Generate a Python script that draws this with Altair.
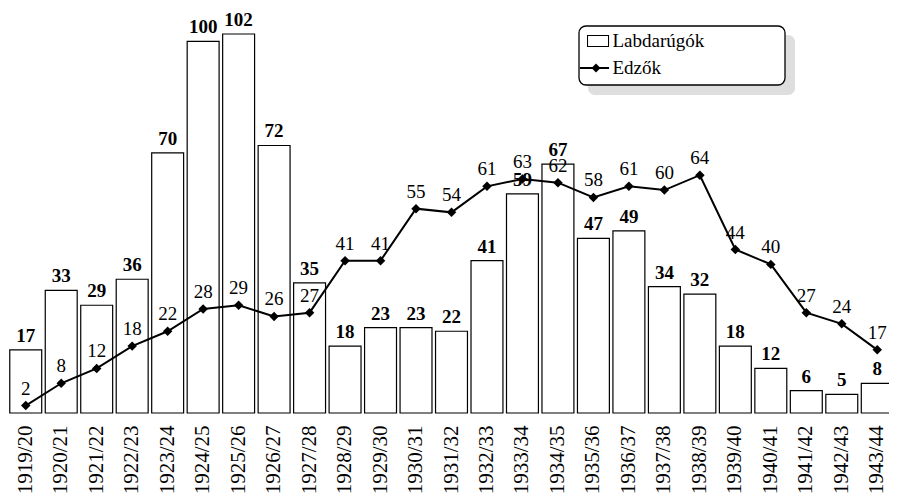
import altair as alt
import pandas as pd

seasons = ["1919/20", "1920/21", "1921/22", "1922/23", "1923/24", "1924/25", "1925/26",
           "1926/27", "1927/28", "1928/29", "1929/30", "1930/31", "1931/32", "1932/33",
           "1933/34", "1934/35", "1935/36", "1936/37", "1937/38", "1938/39", "1939/40",
           "1940/41", "1941/42", "1942/43", "1943/44"]
players = [17, 33, 29, 36, 70, 100, 102, 72, 35, 18, 23, 23, 22, 41, 59, 67, 47, 49, 34, 32, 18, 12, 6, 5, 8]
coaches = [2, 8, 12, 18, 22, 28, 29, 26, 27, 41, 41, 55, 54, 61, 63, 62, 58, 61, 60, 64, 44, 40, 27, 24, 17]
series_names = ["Labdarúgók", "Edzők"]

df = pd.DataFrame({"season": seasons, "players": players, "coaches": coaches})

FONT = "Liberation Serif"
ydom = alt.Scale(domain=[0, 109], nice=False, zero=True)
xenc = alt.X("season:N", sort=None, title=None,
             scale=alt.Scale(paddingInner=0.1, paddingOuter=0.05, range=[0, 887]),
             axis=alt.Axis(labelAngle=270, labelFont=FONT, labelFontSize=21, labelColor="black",
                           ticks=False, domain=False, labelPadding=12))

base = alt.Chart(df)

bars = base.mark_bar(fill="white", stroke="black", strokeWidth=1.2).encode(
    x=xenc, y=alt.Y("players:Q", scale=ydom, axis=None))

bar_labels = base.mark_text(font=FONT, fontSize=19, fontWeight="bold", baseline="bottom",
                            dy=-4, color="black").encode(
    x=xenc, y=alt.Y("players:Q", scale=ydom, axis=None), text="players:Q")

line = base.mark_line(color="black", strokeWidth=2).encode(
    x=xenc, y=alt.Y("coaches:Q", scale=ydom, axis=None))

pts = base.mark_point(shape="diamond", filled=True, size=90, color="black", opacity=1).encode(
    x=xenc, y=alt.Y("coaches:Q", scale=ydom, axis=None))

line_labels = base.mark_text(font=FONT, fontSize=19, baseline="bottom", dy=-7, color="black").encode(
    x=xenc, y=alt.Y("coaches:Q", scale=ydom, axis=None), text="coaches:Q")

one = alt.Data(values=[{}])
shadow = alt.Chart(one).mark_rect(fill="#dedede", cornerRadius=7).encode(
    x=alt.value(580), x2=alt.value(787), y=alt.value(27), y2=alt.value(87))
frame = alt.Chart(one).mark_rect(fill="white", stroke="black", strokeWidth=1.3, cornerRadius=7).encode(
    x=alt.value(571), x2=alt.value(777), y=alt.value(18), y2=alt.value(77))

rect_path = ("M-0.5,-0.4L0.97,-0.4L0.97,0.4L-0.5,0.4Z"
             "M-0.43,-0.333L-0.43,0.333L0.9,0.333L0.9,-0.333Z")
line_path = ("M-0.97,-0.067L0.97,-0.067L0.97,0.067L-0.97,0.067Z"
             "M-0.2,0L0.1,-0.3L0.4,0L0.1,0.3Z")

legend_df = pd.DataFrame({"series": series_names})
legend_layer = alt.Chart(legend_df).transform_filter("false").mark_point(
    filled=True, color="black", opacity=1).encode(
    shape=alt.Shape("series:N",
                    scale=alt.Scale(domain=series_names, range=[rect_path, line_path]),
                    legend=alt.Legend(title=None, orient="none", legendX=571.5, legendY=18,
                                      padding=0, symbolSize=900, symbolFillColor="black",
                                      symbolStrokeWidth=0, symbolOpacity=1,
                                      labelFont=FONT, labelFontSize=19, labelColor="black",
                                      labelOffset=3, rowPadding=2, zindex=2)))

chart = alt.layer(bars, bar_labels, line, pts, line_labels, shadow, frame, legend_layer).properties(
    width=881, height=405,
    autosize=alt.AutoSizeParams(type="none"),
    padding={"left": 0, "top": 0, "right": 0, "bottom": 80}
).configure_view(stroke=None)

chart.save("out.html", embed_options={"renderer": "svg", "actions": False})
